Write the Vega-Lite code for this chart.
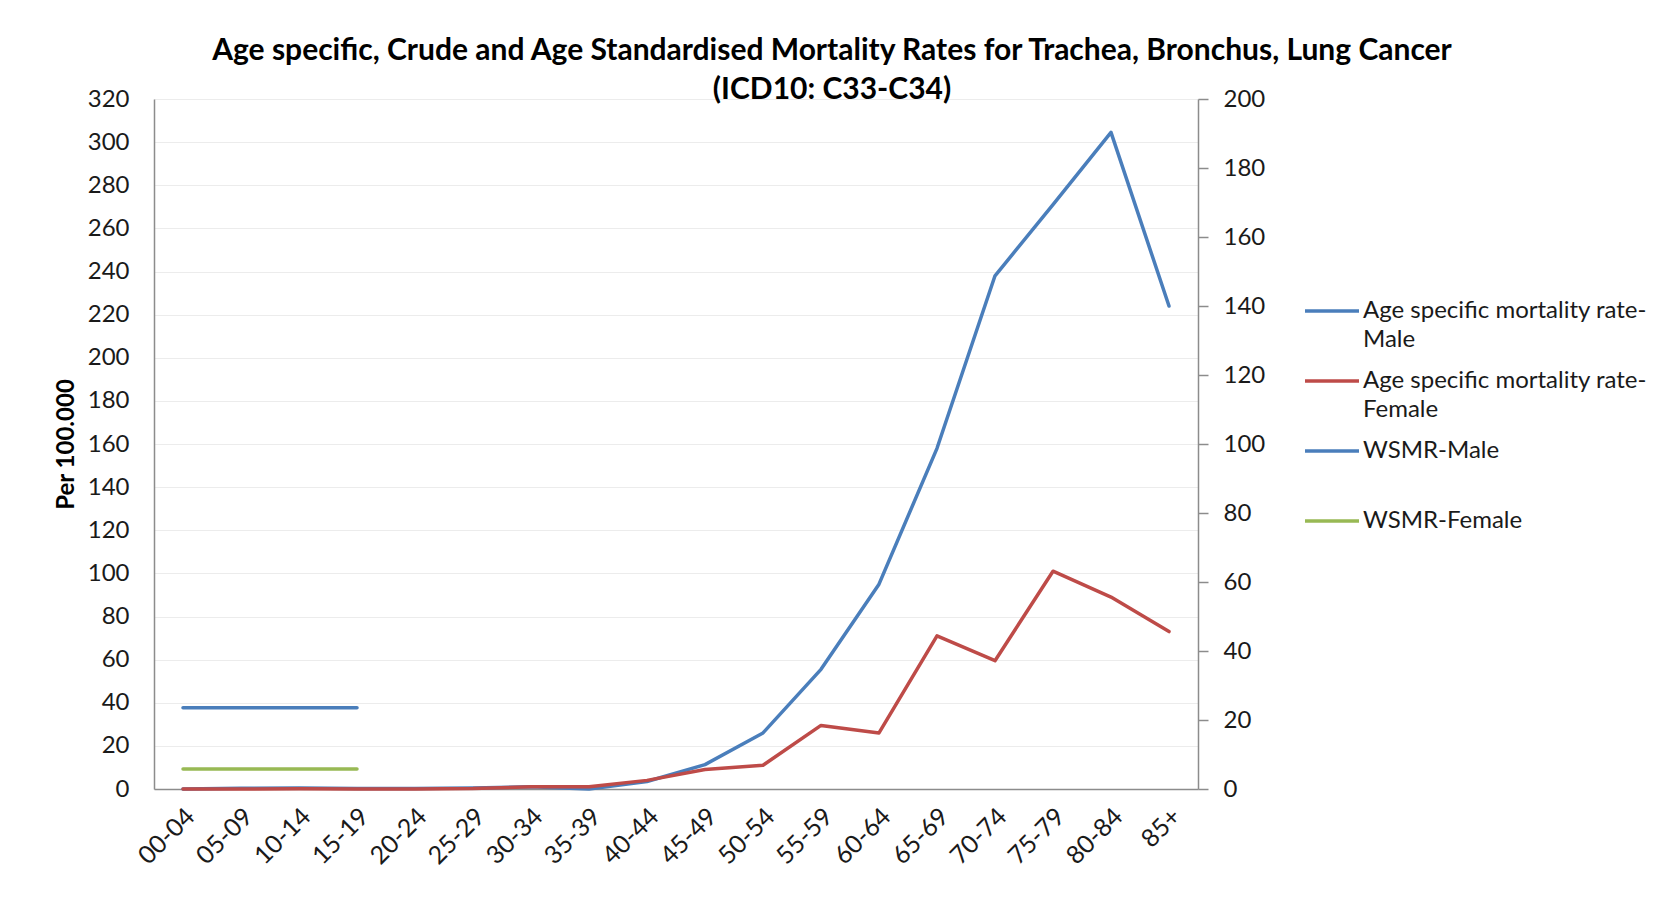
{
  "$schema": "https://vega.github.io/schema/vega-lite/v6.json",
  "width": 1044,
  "height": 690,
  "autosize": {"type": "none"},
  "padding": {"left": 154, "top": 99, "right": 465, "bottom": 110},
  "background": "white",
  "config": {
    "font": "Lato",
    "view": {"stroke": null},
    "legend": {
      "orient": "none",
      "legendX": 1149,
      "legendY": 183,
      "title": null,
      "labelFontSize": 24,
      "labelColor": "#1a1a1a",
      "labelLimit": 0,
      "symbolType": "stroke",
      "symbolSize": 2916,
      "symbolStrokeWidth": 3.5,
      "labelOffset": 2,
      "rowPadding": 0
    }
  },
  "title": {
    "text": ["Age specific, Crude and Age Standardised Mortality Rates for Trachea, Bronchus, Lung Cancer", "(ICD10: C33-C34)"],
    "anchor": "middle",
    "frame": "group",
    "dx": 156,
    "dy": 18,
    "fontSize": 30,
    "fontWeight": "bold",
    "color": "#000000",
    "lineHeight": 39,
    "offset": 0
  },
  "datasets": {
    "rates": [
      {"age": "00-04", "series": "Age specific mortality rate-Male", "value": 0},
      {"age": "05-09", "series": "Age specific mortality rate-Male", "value": 0.3},
      {"age": "10-14", "series": "Age specific mortality rate-Male", "value": 0.5},
      {"age": "15-19", "series": "Age specific mortality rate-Male", "value": 0.2},
      {"age": "20-24", "series": "Age specific mortality rate-Male", "value": 0.2},
      {"age": "25-29", "series": "Age specific mortality rate-Male", "value": 0.5},
      {"age": "30-34", "series": "Age specific mortality rate-Male", "value": 1.0},
      {"age": "35-39", "series": "Age specific mortality rate-Male", "value": 0},
      {"age": "40-44", "series": "Age specific mortality rate-Male", "value": 3.5},
      {"age": "45-49", "series": "Age specific mortality rate-Male", "value": 11.3},
      {"age": "50-54", "series": "Age specific mortality rate-Male", "value": 26},
      {"age": "55-59", "series": "Age specific mortality rate-Male", "value": 55.5},
      {"age": "60-64", "series": "Age specific mortality rate-Male", "value": 95},
      {"age": "65-69", "series": "Age specific mortality rate-Male", "value": 158},
      {"age": "70-74", "series": "Age specific mortality rate-Male", "value": 238},
      {"age": "75-79", "series": "Age specific mortality rate-Male", "value": 271},
      {"age": "80-84", "series": "Age specific mortality rate-Male", "value": 304.5},
      {"age": "85+", "series": "Age specific mortality rate-Male", "value": 224},
      {"age": "00-04", "series": "Age specific mortality rate-Female", "value": 0},
      {"age": "05-09", "series": "Age specific mortality rate-Female", "value": 0},
      {"age": "10-14", "series": "Age specific mortality rate-Female", "value": 0.1},
      {"age": "15-19", "series": "Age specific mortality rate-Female", "value": 0},
      {"age": "20-24", "series": "Age specific mortality rate-Female", "value": 0},
      {"age": "25-29", "series": "Age specific mortality rate-Female", "value": 0.2},
      {"age": "30-34", "series": "Age specific mortality rate-Female", "value": 1},
      {"age": "35-39", "series": "Age specific mortality rate-Female", "value": 1},
      {"age": "40-44", "series": "Age specific mortality rate-Female", "value": 4},
      {"age": "45-49", "series": "Age specific mortality rate-Female", "value": 9},
      {"age": "50-54", "series": "Age specific mortality rate-Female", "value": 11},
      {"age": "55-59", "series": "Age specific mortality rate-Female", "value": 29.5},
      {"age": "60-64", "series": "Age specific mortality rate-Female", "value": 26},
      {"age": "65-69", "series": "Age specific mortality rate-Female", "value": 71},
      {"age": "70-74", "series": "Age specific mortality rate-Female", "value": 59.5},
      {"age": "75-79", "series": "Age specific mortality rate-Female", "value": 101},
      {"age": "80-84", "series": "Age specific mortality rate-Female", "value": 89},
      {"age": "85+", "series": "Age specific mortality rate-Female", "value": 73},
      {"age": "00-04", "series": "WSMR-Male", "value": 37.7},
      {"age": "05-09", "series": "WSMR-Male", "value": 37.7},
      {"age": "10-14", "series": "WSMR-Male", "value": 37.7},
      {"age": "15-19", "series": "WSMR-Male", "value": 37.7},
      {"age": "00-04", "series": "WSMR-Female", "value": 9.3},
      {"age": "05-09", "series": "WSMR-Female", "value": 9.3},
      {"age": "10-14", "series": "WSMR-Female", "value": 9.3},
      {"age": "15-19", "series": "WSMR-Female", "value": 9.3}
    ]
  },
  "data": {"name": "rates"},
  "encoding": {
    "x": {
      "field": "age",
      "type": "nominal",
      "sort": ["00-04","05-09","10-14","15-19","20-24","25-29","30-34","35-39","40-44","45-49","50-54","55-59","60-64","65-69","70-74","75-79","80-84","85+"],
      "scale": {"type": "point", "padding": 0.5},
      "axis": {
        "title": null,
        "labelAngle": -45,
        "labelAlign": "right",
        "labelBaseline": "middle",
        "labelPadding": 23,
        "labelOffset": 7,
        "labelFontSize": 25,
        "labelColor": "#1a1a1a",
        "ticks": false,
        "grid": false,
        "domainColor": "#8c8c8c",
        "domainWidth": 1.5
      }
    }
  },
  "layer": [
    {
      "mark": {"type": "line", "strokeWidth": 3.5, "strokeJoin": "round", "strokeCap": "round"},
      "encoding": {
        "y": {
          "field": "value",
          "type": "quantitative",
          "scale": {"domain": [0, 320], "nice": false},
          "axis": {
            "values": [0,20,40,60,80,100,120,140,160,180,200,220,240,260,280,300,320],
            "grid": true,
            "gridColor": "#ececec",
            "gridWidth": 1,
            "ticks": false,
            "domainColor": "#8c8c8c",
            "domainWidth": 1.5,
            "labelPadding": 25,
            "labelFontSize": 24,
            "labelColor": "#1a1a1a",
            "title": "Per 100.000",
            "titleFontSize": 24,
            "titleFontWeight": "bold",
            "titleColor": "#000000",
            "titleAngle": -90,
            "titleX": -88,
            "titleY": 345,
            "titleAlign": "center",
            "titleBaseline": "middle"
          }
        },
        "color": {
          "field": "series",
          "type": "nominal",
          "scale": {
            "domain": ["Age specific mortality rate-Male", "Age specific mortality rate-Female", "WSMR-Male", "WSMR-Female"],
            "range": ["#4A7EBB", "#BE4B48", "#4A7EBB", "#98B954"]
          },
          "legend": {
            "labelExpr": "indexof(datum.label, 'rate-') > 0 ? [substring(datum.label, 0, indexof(datum.label, 'rate-') + 5), substring(datum.label, indexof(datum.label, 'rate-') + 5)] : [datum.label, ' ']",
            "encode": {"labels": {"update": {"lineHeight": {"value": 29}}}}
          }
        }
      }
    },
    {
      "mark": {"type": "point", "opacity": 0},
      "encoding": {
        "y": {
          "field": "value",
          "type": "quantitative",
          "scale": {"domain": [0, 200], "nice": false, "clamp": true},
          "axis": {
            "orient": "right",
            "values": [0,20,40,60,80,100,120,140,160,180,200],
            "grid": false,
            "ticks": true,
            "tickSize": 10,
            "tickColor": "#8c8c8c",
            "tickWidth": 1.5,
            "domainColor": "#8c8c8c",
            "domainWidth": 1.5,
            "labelPadding": 15,
            "labelFontSize": 24,
            "labelColor": "#1a1a1a",
            "title": null
          }
        }
      }
    }
  ],
  "resolve": {"scale": {"y": "independent"}, "axis": {"y": "independent"}}
}
